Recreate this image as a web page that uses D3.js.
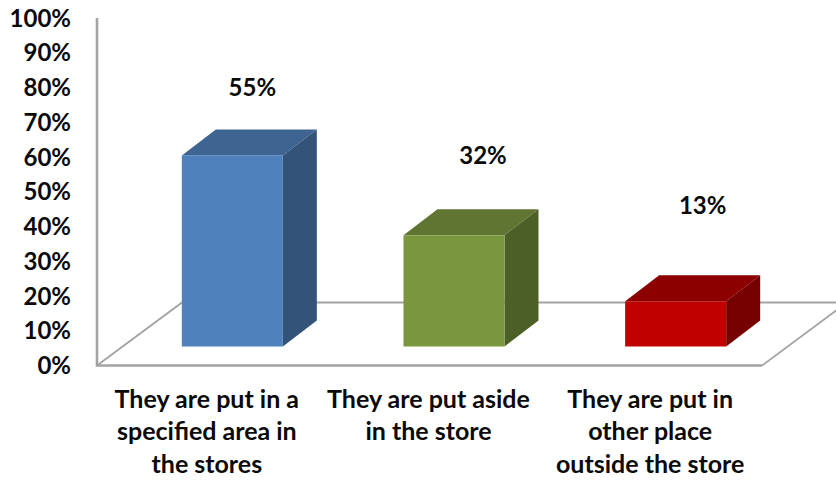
<!DOCTYPE html>
<html>
<head>
<meta charset="utf-8">
<script src="https://cdn.jsdelivr.net/npm/d3@7"></script>
<style>
  html, body { margin: 0; padding: 0; background: #fff; }
  svg { display: block; }
  text { font-family: Lato, "Open Sans", sans-serif; font-weight: 700; fill: #0a0a0a; }
</style>
</head>
<body>
<svg id="chart" width="836" height="480"></svg>
<script>
// Chart content
const categories = [
  ["They are put in a", "specified area in", "the stores"],
  ["They are put aside", "in the store"],
  ["They are put in", "other place", "outside the store"]
];
const values = [55, 32, 13];
const tickValues = [0, 10, 20, 30, 40, 50, 60, 70, 80, 90, 100];

// Bar face colours: front, top, side
const blueFaces = ["#4f81bd", "#3e6491", "#335379"];
const greenFaces = ["#7a963e", "#5f7531", "#4c5f27"];
const redFaces = ["#c00000", "#8c0000", "#760000"];
const faces = [blueFaces, greenFaces, redFaces];

// Layout of the oblique floor and the boxes standing on it
const plot = { left: 97, right: 762, top: 18, bottom: 365.5 };
const floorDepth = { dx: 85, dy: 63 };
const barInset = { dx: 24.5, dy: 19 };
const barDepth = { dx: 34, dy: 26 };
const barWidth = 101;
const axisGrey = "#a3a3a3";
// Data labels sit freely above each box, offset from its front-top centre
const labelOffsets = [[20, -68], [29, -79], [27, -95]];

const svg = d3.select("#chart");
const x = d3.scaleBand().domain(d3.range(categories.length)).range([plot.left, plot.right]);
const y = d3.scaleLinear().domain([0, 100]).range([plot.bottom, plot.top]);
const pct = d => d + "%";

// Floor
const floor = svg.append("g").attr("fill", "none").attr("stroke", axisGrey);
floor.append("path")
  .attr("stroke-width", 1.8)
  .attr("d", d3.line()([
    [plot.left, plot.bottom],
    [plot.left + floorDepth.dx, plot.bottom - floorDepth.dy],
    [plot.right + floorDepth.dx, plot.bottom - floorDepth.dy],
    [plot.right, plot.bottom]
  ]));

// Front axis lines
floor.append("path")
  .attr("stroke-width", 2.6)
  .attr("d", d3.line()([
    [plot.left, plot.top],
    [plot.left, plot.bottom],
    [plot.right, plot.bottom]
  ]));

// Value axis labels
const yAxis = d3.axisLeft(y).tickValues(tickValues).tickFormat(pct).tickSize(0).tickPadding(26);
const yG = svg.append("g").attr("transform", `translate(${plot.left},0)`).call(yAxis);
yG.select(".domain").remove();
yG.selectAll("text").style("font-size", "24px").attr("dy", "0.34em");

// Boxes
const bars = svg.selectAll("g.bar").data(values).join("g").attr("class", "bar");
const base = plot.bottom - barInset.dy;
const barHeight = v => y(0) - y(v);
const poly = pts => d3.line()(pts) + "Z";

bars.each(function (v, i) {
  const g = d3.select(this);
  const x0 = x(i) + x.bandwidth() / 2 - barWidth / 2 + barInset.dx;
  const x1 = x0 + barWidth;
  const top = base - barHeight(v);
  const d = barDepth;
  g.append("path").attr("fill", faces[i][1])
    .attr("d", poly([[x0, top], [x0 + d.dx, top - d.dy], [x1 + d.dx, top - d.dy], [x1, top]]));
  g.append("path").attr("fill", faces[i][2])
    .attr("d", poly([[x1, top], [x1 + d.dx, top - d.dy], [x1 + d.dx, base - d.dy], [x1, base]]));
  g.append("rect").attr("fill", faces[i][0])
    .attr("x", x0).attr("y", top).attr("width", barWidth).attr("height", barHeight(v));
  g.append("text")
    .attr("x", x0 + barWidth / 2 + labelOffsets[i][0])
    .attr("y", top + labelOffsets[i][1])
    .attr("dy", "0.34em")
    .attr("text-anchor", "middle")
    .style("font-size", "24px")
    .text(pct(v));
});

// Category labels
const catLabels = svg.selectAll("text.cat").data(categories).join("text")
  .attr("class", "cat")
  .attr("text-anchor", "middle")
  .style("font-size", "25px");
catLabels.selectAll("tspan").data((d, i) => d.map((line, k) => ({ line, k, i }))).join("tspan")
  .attr("x", d => x(d.i) + x.bandwidth() / 2 - 1)
  .attr("y", d => 407.5 + d.k * 32.5)
  .text(d => d.line);
</script>
</body>
</html>
